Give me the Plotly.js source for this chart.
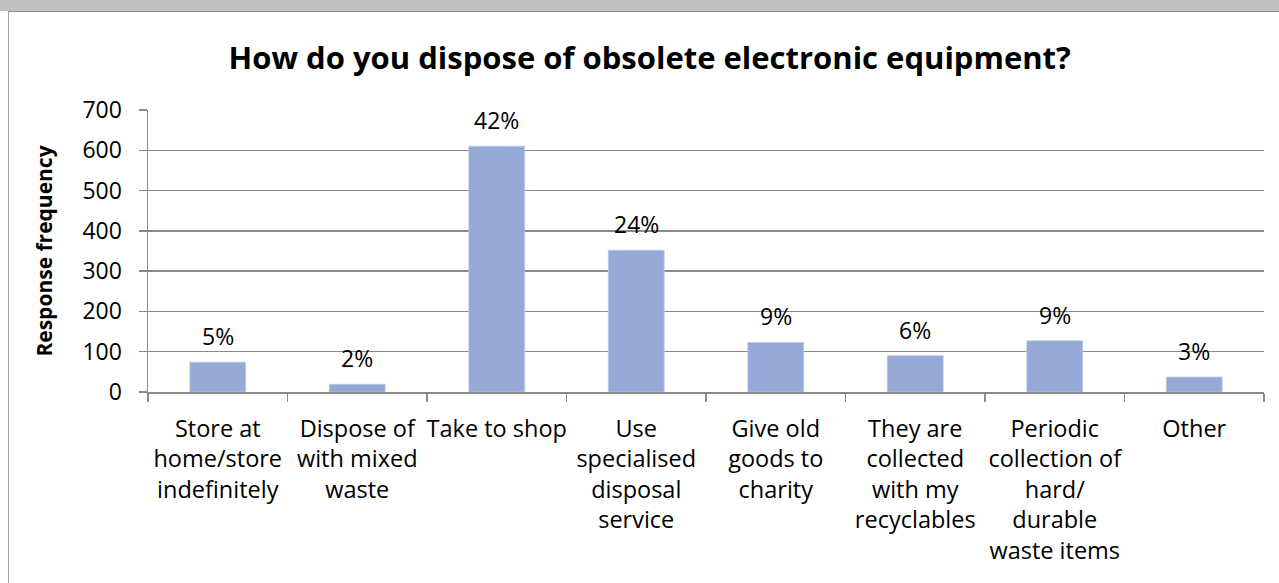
<!DOCTYPE html>
<html>
<head>
<meta charset="utf-8">
<script src="https://cdn.plot.ly/plotly-3.0.1.min.js"></script>
<style>
  html, body { margin: 0; padding: 0; background: #ffffff; }
  #wrap { position: relative; width: 1279px; height: 583px; overflow: hidden; background: #ffffff; }
  #strip { position: absolute; left: 0; top: 0; width: 1279px; height: 11px; background: #c0c0c0; }
  #frame { position: absolute; left: 8px; top: 11px; width: 1300px; height: 600px;
           border-top: 1px solid #8e8e8e; border-left: 1px solid #a0a0a0; box-sizing: border-box; }
  #chart { position: absolute; left: 0; top: 0; width: 1279px; height: 583px; }
</style>
</head>
<body>
<div id="wrap">
  <div id="strip"></div>
  <div id="frame"></div>
  <div id="chart"></div>
</div>
<script>
// ---- data ----
const categories = [
  "Store at home/store indefinitely",
  "Dispose of with mixed waste",
  "Take to shop",
  "Use specialised disposal service",
  "Give old goods to charity",
  "They are collected with my recyclables",
  "Periodic collection of hard/durable waste items",
  "Other"
];
const tickLabels = [
  "Store at<br>home/store<br>indefinitely",
  "Dispose of<br>with mixed<br>waste",
  "Take to shop",
  "Use<br>specialised<br>disposal<br>service",
  "Give old<br>goods to<br>charity",
  "They are<br>collected<br>with my<br>recyclables",
  "Periodic<br>collection of<br>hard/<br>durable<br>waste items",
  "Other"
];
const responses = [74, 19, 610, 352, 123, 90, 127, 37];
const percentLabels = ["5%", "2%", "42%", "24%", "9%", "6%", "9%", "3%"];
const yTickValues = [0, 100, 200, 300, 400, 500, 600, 700];

const chartTitle = "How do you dispose of obsolete electronic equipment?";
const yTitle = "Response frequency";

// ---- styling ----
const FONT = "'Open Sans', 'DejaVu Sans', sans-serif";
const GRID = "#8a8a8a";
const BAR = "#95a8d6";

const trace = {
  type: "bar",
  x: categories,
  y: responses,
  marker: { color: BAR, line: { color: "#b9c7e6", width: 0.8 } },
  hoverinfo: "x+y"
};

const annotations = categories.map((c, i) => ({
  x: c, y: responses[i], xref: "x", yref: "y",
  text: percentLabels[i], showarrow: false,
  yanchor: "bottom", yshift: 8,
  font: { family: FONT, size: 23, color: "#000000" }
}));

const layout = {
  width: 1279, height: 583,
  margin: { l: 148, r: 15, t: 110, b: 191, pad: 0 },
  paper_bgcolor: "rgba(0,0,0,0)",
  plot_bgcolor: "rgba(0,0,0,0)",
  showlegend: false,
  bargap: 0.6,
  font: { family: FONT, size: 23, color: "#000000" },
  title: {
    text: "<b>" + chartTitle + "</b>",
    x: 0.508, xref: "container", xanchor: "center",
    y: 0.9, yref: "container", yanchor: "middle",
    font: { family: FONT, size: 31, color: "#000000" }
  },
  xaxis: {
    type: "category",
    tickmode: "array",
    tickvals: categories,
    ticktext: tickLabels,
    tickangle: 0,
    showline: true, linecolor: GRID, linewidth: 1.5,
    ticks: "outside", tickson: "boundaries", ticklen: 8, tickcolor: GRID, tickwidth: 1.5,
    showgrid: false, zeroline: false,
    ticklabelstandoff: 15,
    tickfont: { family: FONT, size: 23.5, color: "#000000" },
    fixedrange: true
  },
  yaxis: {
    range: [0, 700],
    tickmode: "array",
    tickvals: yTickValues,
    showline: true, linecolor: GRID, linewidth: 1.5,
    ticks: "outside", ticklen: 8, tickcolor: GRID, tickwidth: 1.5,
    showgrid: true, gridcolor: GRID, gridwidth: 1.5,
    zeroline: false,
    ticklabelstandoff: 12,
    tickfont: { family: FONT, size: 23, color: "#000000" },
    title: {
      text: "<b>" + yTitle + "</b>",
      font: { family: FONT, size: 21, color: "#000000" },
      standoff: 24
    },
    fixedrange: true
  },
  annotations: annotations
};

Plotly.newPlot("chart", [trace], layout, { displayModeBar: false, staticPlot: true });
</script>
</body>
</html>
